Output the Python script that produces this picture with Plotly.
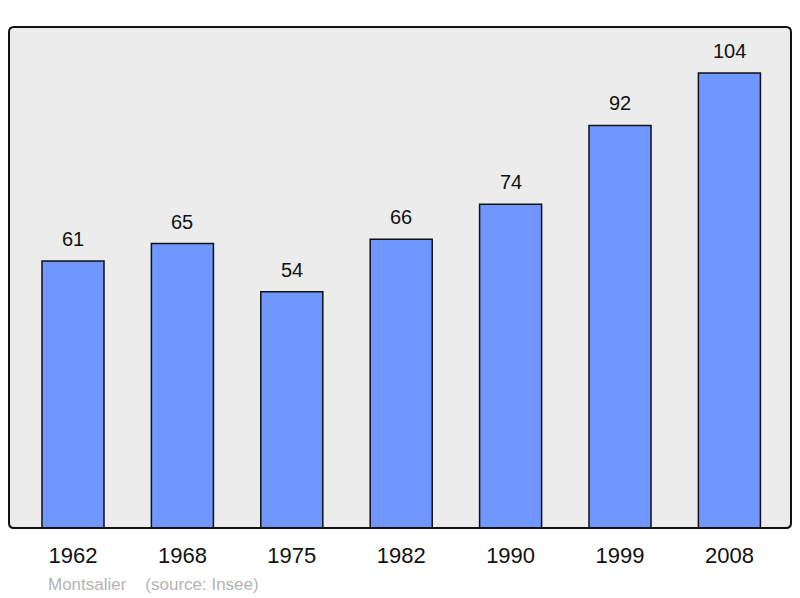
import plotly.graph_objects as go

years = ["1962", "1968", "1975", "1982", "1990", "1999", "2008"]
population = [61, 65, 54, 66, 74, 92, 104]
commune = "Montsalier"
source = "(source: Insee)"

# page has an 8px body margin, so the figure is drawn 8px in from the corner
W, H = 784, 590
L, R, T, B = 1, 1, 19, 70
xpos = list(range(len(years)))

fig = go.Figure()
fig.add_trace(go.Bar(
    x=xpos, y=population, width=0.567,
    marker=dict(color="#7096ff", line=dict(color="#111111", width=1.5)),
    hoverinfo="skip",
))

for x, v in zip(xpos, population):
    fig.add_annotation(x=x, y=v, text=str(v), showarrow=False, yanchor="bottom",
                       yshift=9, font=dict(size=20, color="#111111"))

pw, ph = W - L - R, H - T - B
fig.add_annotation(xref="paper", yref="paper", x=(38 - L) / pw, y=-(576 - (H - B)) / ph,
                   xanchor="left", yanchor="middle", showarrow=False,
                   text=commune + "&nbsp;&nbsp;&nbsp;&nbsp;" + source,
                   font=dict(size=17, color="#b4b4b4"))

# rounded frame round the plot area (paper coords)
rx, ry = 5 / pw, 5 / ph
path = (f"M {rx},0 L {1-rx},0 Q 1,0 1,{ry} L 1,{1-ry} Q 1,1 {1-rx},1 "
        f"L {rx},1 Q 0,1 0,{1-ry} L 0,{ry} Q 0,0 {rx},0 Z")
fig.add_shape(type="path", xref="paper", yref="paper", path=path,
              line=dict(color="#111111", width=2), layer="above")

fig.update_layout(
    width=W, height=H,
    margin=dict(l=L, r=R, t=T, b=B),
    paper_bgcolor="white", plot_bgcolor="#ececec",
    font=dict(family="Liberation Sans, Arial, sans-serif"),
    showlegend=False,
)
fig.update_xaxes(range=[-0.585, 6.563], tickvals=xpos, ticktext=years,
                 showgrid=False, zeroline=False, ticks="", ticklabelstandoff=12,
                 tickfont=dict(size=22, color="#111111"))
fig.update_yaxes(range=[0, 114.5], showticklabels=False, showgrid=False, zeroline=False)

fig.write_html("out.html")
